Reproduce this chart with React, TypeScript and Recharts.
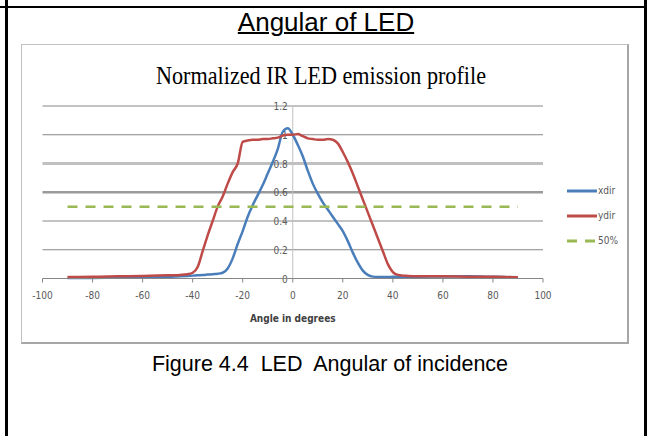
import React from "react";
import { LineChart, Line, XAxis, YAxis, ReferenceLine } from "recharts";

// angle (degrees) sampled across the profile
const ANGLES = [
  -90, -80, -70, -60, -50, -45, -42, -40, -38, -36, -34, -32, -30, -28, -26,
  -24, -22, -20, -18, -16, -14, -12, -10, -8, -6, -4, -2, 0, 2, 4, 6, 8, 10,
  12, 14, 16, 18, 20, 22, 24, 26, 28, 30, 32, 34, 36, 38, 40, 42, 44, 46, 50,
  60, 70, 80, 90,
];

const XDIR = [
  0.003, 0.004, 0.005, 0.006, 0.01, 0.015, 0.018, 0.02, 0.022, 0.024, 0.027,
  0.03, 0.033, 0.04, 0.07, 0.14, 0.24, 0.33, 0.43, 0.51, 0.58, 0.65, 0.73,
  0.81, 0.9, 1.02, 1.045, 1.0, 0.93, 0.85, 0.75, 0.66, 0.59, 0.53, 0.48, 0.43,
  0.38, 0.33, 0.26, 0.18, 0.11, 0.055, 0.025, 0.013, 0.01, 0.01, 0.01, 0.012,
  0.012, 0.012, 0.012, 0.013, 0.014, 0.015, 0.012, 0.008,
];

const YDIR = [
  0.01, 0.012, 0.015, 0.018, 0.022, 0.025, 0.03, 0.04, 0.08, 0.19, 0.3, 0.4,
  0.5, 0.57, 0.66, 0.74, 0.8, 0.95, 0.96, 0.965, 0.965, 0.97, 0.97, 0.975,
  0.98, 0.995, 1.0, 1.0, 1.005, 0.99, 0.975, 0.97, 0.965, 0.965, 0.97, 0.965,
  0.94, 0.88, 0.81, 0.73, 0.64, 0.55, 0.46, 0.37, 0.28, 0.19, 0.1, 0.045,
  0.025, 0.02, 0.018, 0.016, 0.015, 0.013, 0.012, 0.008,
];

const HALF_ANGLES = [-90, 90];
const HALF_VALUES = [0.5, 0.5];

const X_TICKS = [-100, -80, -60, -40, -20, 0, 20, 40, 60, 80, 100];
const Y_TICKS = [1.2, 1, 0.8, 0.6, 0.4, 0.2];
const Y_LABELS = ["1.2", "1", "0.8", "0.6", "0.4", "0.2", "0"];
const SERIES_NAMES = ["xdir", "ydir", "50%"];

const BLUE = "#4a7ebb";
const RED = "#be4b48";
const GREEN = "#98b954";
const TEXT = "#595959";
const NARROW = "'DejaVu Sans Condensed', 'Liberation Sans Narrow', Roboto, sans-serif";

const GRID_STYLE: Record<string, { stroke: string; width: number }> = {
  "0.8": { stroke: "#c0c0c0", width: 3 },
  "0.6": { stroke: "#9a9a9a", width: 2.5 },
};

const rows = ANGLES.map((a, i) => ({ angle: a, xdir: XDIR[i], ydir: YDIR[i] }));
const halfRows = HALF_ANGLES.map((a, i) => ({ angle: a, half: HALF_VALUES[i] }));

const LEGEND = [
  { name: SERIES_NAMES[0], color: BLUE },
  { name: SERIES_NAMES[1], color: RED },
  { name: SERIES_NAMES[2], color: GREEN, dash: "10 8" },
];

function YLabel(props: any) {
  const { viewBox, value } = props;
  const cx = viewBox.x + viewBox.width / 2;
  return (
    <text
      x={cx - 5}
      y={viewBox.y + 4}
      textAnchor="end"
      fontSize={10}
      fill={TEXT}
      fontFamily={NARROW}
    >
      {value}
    </text>
  );
}

export default function App() {
  return (
    <div
      style={{
        position: "absolute",
        left: 0,
        top: 0,
        width: 647,
        height: 436,
        background: "#fff",
        overflow: "hidden",
      }}
    >
      {/* table borders */}
      <div style={{ position: "absolute", left: 5, top: 0, width: 2.5, height: 436, background: "#000" }} />
      <div style={{ position: "absolute", left: 644, top: 0, width: 2.5, height: 436, background: "#000" }} />
      <div style={{ position: "absolute", left: 0, top: 5.5, width: 647, height: 2.5, background: "#000" }} />

      <div
        style={{
          position: "absolute",
          left: 0,
          width: 652,
          top: 7,
          textAlign: "center",
          fontFamily: "'Liberation Sans', Arial, sans-serif",
          fontSize: 26,
          textDecoration: "underline",
          textDecorationThickness: 2,
          color: "#000",
        }}
      >
        Angular of LED
      </div>

      {/* chart frame */}
      <div
        style={{
          position: "absolute",
          left: 21,
          top: 44,
          width: 605,
          height: 297,
          borderLeft: "1px solid #c0c0c0",
          borderTop: "1px solid #c0c0c0",
          borderRight: "2px solid #a6a6a6",
          borderBottom: "2px solid #a6a6a6",
        }}
      />

      <svg style={{ position: "absolute", left: 0, top: 0 }} width={647} height={100}>
        <text
          x={321}
          y={84}
          textAnchor="middle"
          fontFamily="'Liberation Serif', 'DejaVu Serif', serif"
          fontSize={25}
          textLength={330}
          lengthAdjust="spacingAndGlyphs"
          fill="#000"
        >
          Normalized IR LED emission profile
        </text>
      </svg>

      <div style={{ position: "absolute", left: 21, top: 44 }}>
        <LineChart
          width={606}
          height={298}
          margin={{ top: 62, right: 84, left: 21.5, bottom: 18.5 }}
        >
          <XAxis
            type="number"
            dataKey="angle"
            domain={[-100, 100]}
            ticks={X_TICKS}
            allowDataOverflow
            height={45}
            stroke="#868686"
            tickSize={4}
            tickMargin={9}
            tick={{ fontSize: 10, fill: TEXT, fontFamily: NARROW }}
            label={{
              value: "Angle in degrees",
              position: "insideBottom",
              offset: 2,
              style: { fontSize: 10, fill: "#404040", fontWeight: "bold", fontFamily: NARROW },
            }}
          />
          <YAxis type="number" domain={[0, 1.2]} hide />
          {Y_TICKS.map((v, i) => {
            const st = GRID_STYLE[String(v)] ?? { stroke: "#868686", width: 1 };
            return (
              <ReferenceLine
                key={v}
                y={v}
                stroke={st.stroke}
                strokeWidth={st.width}
                label={<YLabel value={Y_LABELS[i]} />}
              />
            );
          })}
          <ReferenceLine y={0} stroke="none" label={<YLabel value={Y_LABELS[6]} />} />
          <ReferenceLine
            segment={[
              { x: 0, y: 0 },
              { x: 0, y: 1.2 },
            ]}
            stroke="#c0c0c0"
          />
          <Line
            data={rows}
            dataKey="xdir"
            name={SERIES_NAMES[0]}
            stroke={BLUE}
            strokeWidth={2.5}
            dot={false}
            type="monotone"
            isAnimationActive={false}
          />
          <Line
            data={rows}
            dataKey="ydir"
            name={SERIES_NAMES[1]}
            stroke={RED}
            strokeWidth={2.5}
            dot={false}
            type="monotone"
            isAnimationActive={false}
          />
          <Line
            data={halfRows}
            dataKey="half"
            name={SERIES_NAMES[2]}
            stroke={GREEN}
            strokeWidth={2.5}
            strokeDasharray="10 8"
            dot={false}
            isAnimationActive={false}
          />
        </LineChart>
      </div>

      {/* legend */}
      <div style={{ position: "absolute", left: 567, top: 178 }}>
        {LEGEND.map((e) => (
          <div key={e.name} style={{ display: "flex", alignItems: "center", height: 25 }}>
            <svg width={31} height={6}>
              <line
                x1={0}
                y1={3}
                x2={30}
                y2={3}
                stroke={e.color}
                strokeWidth={3}
                strokeDasharray={e.dash}
              />
            </svg>
            <span style={{ fontSize: 10, color: TEXT, fontFamily: NARROW }}>{e.name}</span>
          </div>
        ))}
      </div>

      <div
        style={{
          position: "absolute",
          left: 0,
          width: 660,
          top: 352,
          textAlign: "center",
          fontFamily: "'Liberation Sans', Arial, sans-serif",
          fontSize: 21.5,
          whiteSpace: "pre",
          color: "#000",
        }}
      >
        {"Figure 4.4  LED  Angular of incidence"}
      </div>
    </div>
  );
}
